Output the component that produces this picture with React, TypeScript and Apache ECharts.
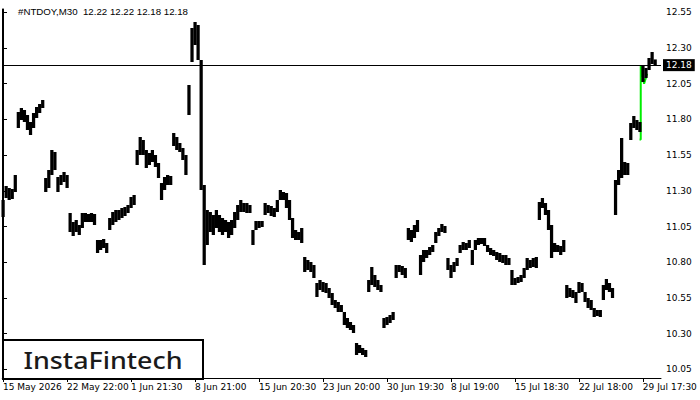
import React, { useEffect, useRef } from "react";
import * as echarts from "echarts";

const symbolName = "#NTDOY,M30";
const lastOHLC = [12.22, 12.22, 12.18, 12.18];
const lastPrice = 12.18;

const tickBars = [0, 21, 42, 63, 84, 105, 126, 147, 168, 189, 210];
const tickLabels = [
  "15 May 2026", "22 May 22:00", "1 Jun 21:30", "8 Jun 21:00", "15 Jun 20:30",
  "23 Jun 20:00", "30 Jun 19:30", "8 Jul 19:00", "15 Jul 18:30", "22 Jul 18:00", "29 Jul 17:30",
];
const priceTicks = [10.05, 10.3, 10.55, 10.8, 11.05, 11.3, 11.55, 11.8, 12.05, 12.3, 12.55];
const priceLabels = ["10.05", "10.30", "10.55", "10.80", "11.05", "11.30", "11.55", "11.80", "12.05", "12.30", "12.55"];

const highs = [
  11.236, 11.334, 11.320, 11.313, 11.411, 11.852, 11.880, 11.866, 11.831, 11.782,
  11.845, 11.887, 11.908, 11.936, 11.390, 11.446, 11.586, 11.572, 11.397, 11.411,
  11.432, 11.411, 11.145, 11.082, 11.096, 11.061, 11.145, 11.145, 11.138, 11.145,
  11.138, 10.956, 10.956, 10.963, 10.935, 11.110, 11.152, 11.166, 11.166, 11.180,
  11.187, 11.201, 11.257, 11.271, 11.586, 11.677, 11.656, 11.586, 11.565, 11.586,
  11.551, 11.495, 11.355, 11.397, 11.411, 11.404, 11.705, 11.677, 11.635, 11.600,
  11.551, 12.041, 12.440, 12.482, 12.461, 12.216, 11.341, 11.166, 11.152, 11.131,
  11.166, 11.131, 11.110, 11.096, 11.082, 11.096, 11.152, 11.201, 11.236, 11.215,
  11.215, 11.201, 11.026, 11.089, 11.089, 11.089, 11.215, 11.201, 11.194, 11.180,
  11.236, 11.306, 11.292, 11.285, 11.236, 11.110, 11.026, 11.012, 11.040, 10.837,
  10.816, 10.802, 10.781, 10.655, 10.676, 10.662, 10.655, 10.620, 10.585, 10.536,
  10.522, 10.501, 10.452, 10.410, 10.382, 10.361, 10.235, 10.221, 10.200, 10.186,
  10.676, 10.767, 10.711, 10.676, 10.641, 10.410, 10.417, 10.431, 10.452, 10.781,
  10.781, 10.774, 10.760, 11.040, 11.026, 11.061, 11.096, 10.851, 10.886, 10.886,
  10.907, 10.921, 11.012, 11.040, 11.068, 11.054, 10.830, 10.781, 10.802, 10.830,
  10.921, 10.942, 10.935, 10.956, 10.886, 10.956, 10.970, 10.970, 10.970, 10.921,
  10.900, 10.886, 10.872, 10.865, 10.851, 10.851, 10.830, 10.746, 10.690, 10.697,
  10.711, 10.760, 10.830, 10.816, 10.830, 10.837, 11.222, 11.250, 11.215, 11.166,
  11.061, 10.935, 10.921, 10.914, 10.956, 10.641, 10.620, 10.606, 10.592, 10.662,
  10.655, 10.592, 10.550, 10.536, 10.480, 10.466, 10.466, 10.641, 10.683, 10.655,
  10.620, 11.376, 11.446, 11.670, 11.502, 11.495, 11.775, 11.824, 11.796, 11.782,
  12.181, 12.160, 12.230, 12.272, 12.220,
];

const lows = [
  11.117, 11.250, 11.236, 11.243, 11.292, 11.740, 11.796, 11.782, 11.726, 11.691,
  11.740, 11.810, 11.845, 11.880, 11.292, 11.320, 11.411, 11.446, 11.292, 11.341,
  11.362, 11.320, 11.012, 10.984, 11.012, 10.991, 11.040, 11.082, 11.082, 11.082,
  11.061, 10.865, 10.886, 10.900, 10.865, 11.026, 11.061, 11.082, 11.096, 11.110,
  11.124, 11.145, 11.180, 11.201, 11.481, 11.551, 11.551, 11.460, 11.481, 11.502,
  11.467, 11.390, 11.236, 11.306, 11.341, 11.341, 11.614, 11.586, 11.572, 11.516,
  11.411, 11.831, 12.202, 12.321, 12.216, 11.306, 10.781, 10.921, 11.012, 10.991,
  11.040, 11.012, 10.991, 11.012, 10.970, 10.991, 11.040, 11.096, 11.152, 11.152,
  11.145, 11.145, 10.921, 11.026, 11.040, 11.047, 11.131, 11.145, 11.124, 11.117,
  11.152, 11.236, 11.236, 11.180, 11.096, 10.970, 10.956, 10.956, 10.935, 10.732,
  10.746, 10.732, 10.690, 10.557, 10.606, 10.592, 10.585, 10.550, 10.501, 10.480,
  10.452, 10.452, 10.361, 10.340, 10.326, 10.305, 10.151, 10.165, 10.151, 10.137,
  10.592, 10.641, 10.627, 10.606, 10.592, 10.340, 10.361, 10.375, 10.396, 10.690,
  10.732, 10.711, 10.690, 10.956, 10.942, 10.970, 11.012, 10.711, 10.802, 10.830,
  10.851, 10.872, 10.935, 10.984, 11.012, 11.005, 10.746, 10.690, 10.732, 10.774,
  10.865, 10.886, 10.886, 10.900, 10.781, 10.886, 10.921, 10.928, 10.914, 10.872,
  10.851, 10.844, 10.816, 10.802, 10.795, 10.781, 10.781, 10.641, 10.641, 10.655,
  10.662, 10.690, 10.746, 10.760, 10.767, 10.760, 11.096, 11.180, 11.131, 11.026,
  10.830, 10.872, 10.872, 10.851, 10.872, 10.550, 10.557, 10.550, 10.515, 10.585,
  10.592, 10.522, 10.480, 10.466, 10.417, 10.424, 10.417, 10.536, 10.606, 10.592,
  10.550, 11.131, 11.341, 11.390, 11.411, 11.411, 11.656, 11.740, 11.726, 11.712,
  12.062, 12.090, 12.146, 12.188, 12.180,
];

// green pattern marker (bar position, price)
const patternX = [208.9, 209.3, 209.3, 210.4, 211.4];
const patternY = [11.66, 11.66, 12.18, 12.05, 12.12];

const FONT = "'Liberation Sans', Arial, sans-serif";
const AXFONT = "'DejaVu Sans', Verdana, sans-serif";

export default function App() {
  const ref = useRef<HTMLDivElement>(null);
  useEffect(() => {
    document.body.style.margin = "0";
    const chart = echarts.init(ref.current!, null, { renderer: "svg" });
    const barData = highs.map((h, i) => [i, lows[i], h]);
    const patternData = patternX.map((x, i) => [x, patternY[i]]);
    const baseGraphic: any[] = [
      {
        type: "text",
        left: 18,
        top: 6,
        z: 10,
        style: {
          text: `${symbolName}  ${lastOHLC.map((v) => v.toFixed(2)).join(" ")}`,
          fill: "#000",
          font: `9.7px ${FONT}`,
        },
      },
      {
        type: "group",
        left: 2,
        top: 339,
        z: 20,
        children: [
          {
            type: "rect",
            shape: { x: 0, y: 0, width: 200, height: 39 },
            style: { fill: "#fff", stroke: "#000", lineWidth: 2 },
          },
          {
            type: "text",
            x: 100,
            y: 20,
            scaleX: 1.12,
            style: {
              text: "InstaFintech",
              fill: "#1a1a1a",
              font: "500 24px 'Noto Sans', sans-serif",
              align: "center",
              verticalAlign: "middle",
            },
          },
        ],
      },
    ];
    chart.setOption({
      animation: false,
      backgroundColor: "#ffffff",
      grid: { left: 2, right: 39, top: 9, bottom: 22 },
      xAxis: {
        type: "value",
        min: -0.25,
        max: 215.95,
        position: "bottom",
        axisLine: { show: true, lineStyle: { color: "#000", width: 1 } },
        axisTick: { show: true, length: 4, lineStyle: { color: "#000" }, customValues: tickBars },
        axisLabel: {
          customValues: tickBars,
          align: "left",
          margin: 4,
          color: "#000",
          fontFamily: AXFONT,
          fontSize: 9,
          formatter: (v: number) => tickLabels[Math.round(v / 21)] ?? "",
        },
        splitLine: { show: false },
      },
      yAxis: [
        {
          type: "value",
          min: 9.99,
          max: 12.573,
          position: "right",
          axisLine: { show: true, lineStyle: { color: "#000", width: 1 } },
          axisTick: { show: true, length: 4, lineStyle: { color: "#000" }, customValues: priceTicks },
          axisLabel: { show: false },
          splitLine: { show: false },
        },
        {
          type: "value",
          min: 9.99,
          max: 12.573,
          position: "left",
          axisLine: { show: true, lineStyle: { color: "#000", width: 1 } },
          axisTick: { show: false },
          axisLabel: { show: false },
          splitLine: { show: false },
        },
      ],
      series: [
        {
          type: "line",
          data: patternData,
          symbol: "none",
          z: 1,
          lineStyle: { color: "#00ee00", width: 2 },
          markLine: {
            silent: true,
            symbol: "none",
            lineStyle: { color: "#000", width: 1, type: "solid" },
            label: {
              position: "end",
              distance: 2,
              formatter: () => lastPrice.toFixed(2),
              color: "#fff",
              backgroundColor: "#000",
              padding: [2, 3, 1, 3],
              fontFamily: AXFONT,
              fontSize: 9,
            },
            data: [{ yAxis: lastPrice }],
          },
        },
        {
          type: "custom",
          z: 3,
          data: barData,
          encode: { x: 0, y: [1, 2] },
          renderItem: (params: any, api: any) => {
            const x = api.value(0);
            const lo = api.value(1);
            const hi = api.value(2);
            const p1 = api.coord([x, hi]);
            const p2 = api.coord([x, lo]);
            const w = api.size([1, 0])[0];
            return {
              type: "rect",
              shape: { x: p1[0] - w / 2, y: p1[1], width: w + 0.2, height: Math.max(1, p2[1] - p1[1]) },
              style: { fill: "#000" },
            };
          },
        },
      ],
      graphic: baseGraphic,
    });
    // right-axis price labels placed at the axis' own tick positions
    const labelEls = priceTicks.map((p, i) => {
      const py = chart.convertToPixel({ yAxisIndex: 0 }, p) as number;
      return {
        type: "text",
        x: 666,
        y: py,
        z: 10,
        style: {
          text: priceLabels[i],
          fill: "#000",
          font: `9px ${AXFONT}`,
          verticalAlign: "middle",
          align: "left",
        },
      };
    });
    chart.setOption({ graphic: [...baseGraphic, ...labelEls] });
    return () => chart.dispose();
  }, []);
  return <div ref={ref} style={{ position: "absolute", left: 0, top: 0, width: 700, height: 400 }} />;
}
